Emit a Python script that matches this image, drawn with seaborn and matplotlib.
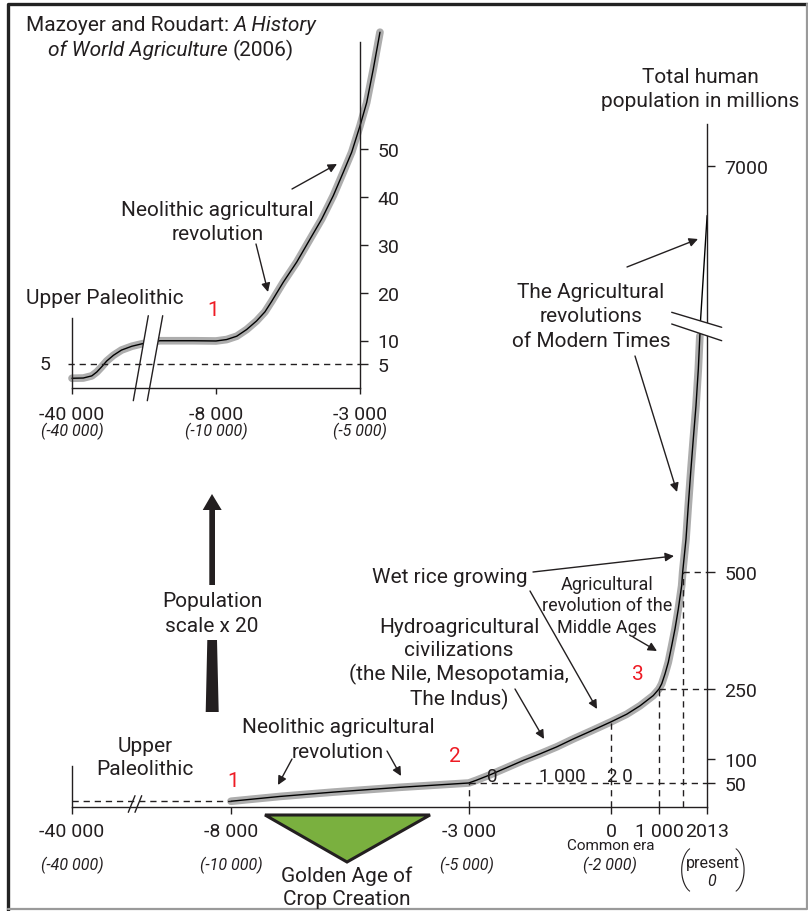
import numpy as np
import pandas as pd
import matplotlib
matplotlib.use("Agg")
import matplotlib.pyplot as plt
import seaborn as sns
from matplotlib.patches import Polygon

# ---------------- data ----------------
# Inset (population scale x 20): Upper Paleolithic -> Neolithic, millions
inset_years = [-40000, -37500, -35600, -34500, -33400, -32300, -30800, -29000, -26700, -24500,
               -20450, -13050, -8000, -7630, -7280, -6935, -6590, -6300, -6066, -5663, -5198,
               -4736, -4330, -3927, -3580, -3288, -3000, -2767, -2538, -2306]
inset_pop = [2.1, 2.15, 2.6, 3.4, 4.5, 5.7, 6.9, 8.0, 8.8, 9.3,
             9.95, 9.95, 9.9, 10.2, 10.9, 12.3, 14.1, 16.0, 18.2, 22.2, 26.4,
             31.2, 35.4, 40.3, 45.2, 49.4, 54.9, 59.8, 66.8, 74.5]
inset_xticks = [-40000, -8000, -3000]
inset_xlabels = ["-40 000", "-8 000", "-3 000"]
inset_xlabels2 = ["(-40 000)", "(-10 000)", "(-5 000)"]
inset_yticks = [5, 10, 20, 30, 40, 50]
inset_ylevel = 5

# Main chart: total human population in millions
main_years = [-8000, -6970, -5850, -4450, -3000, -2833, -2553, -2202, -1853, -1502, -1150,
              -801, -450, 0, 322, 602, 881, 1000, 1058, 1127, 1197, 1268, 1338, 1407, 1478,
              1500, 1569, 1617, 1668, 1722, 1779, 1828, 1860, 1875, 2013]
main_pop = [12, 22, 31, 41, 50, 56, 67, 82, 97, 111, 126,
            143, 159, 180, 196, 214, 236, 250, 261, 282, 307, 342, 378, 420, 470,
            500, 569, 640, 711, 781, 852, 930, 1000, 1100, 5100]
main_xticks = [-40000, -8000, -3000, 0, 1000, 2013]
main_xlabels = ["-40 000", "-8 000", "-3 000", "0", "1 000", "2013"]
main_xlabels2 = ["(-40 000)", "(-10 000)", "(-5 000)", "(-2 000)"]
main_yticks = [50, 100, 250, 500, 7000]
# reference dashed guides (year, population)
guide_years = [-3000, 0, 1000, 1500]
guide_pops = [50, 180, 250, 500]
paleo_level = 12

# ---------------- style ----------------
sns.set_theme(style="white")
plt.rcParams["font.family"] = ["Roboto", "DejaVu Sans"]
TXT = "#231f20"
GREY = "#adadad"
RED = "#ee1c25"
GREEN = "#7ab03f"
FS = 15

W, H = 808, 912
fig = plt.figure(figsize=(W / 100, H / 100), dpi=100)
fig.patch.set_facecolor("white")


def rect(l, t, r, b):
    return [l / W, 1 - b / H, (r - l) / W, (b - t) / H]


# piecewise scales (layout of the broken axes)
mx_nodes = np.array([-80000.0, -40000.0, -8000.0, 5000.0])
mx_pos = np.array([-128.0, 72.0, 231.0, 231.0 + 13000 * 0.04755])
my_nodes = np.array([-1000.0, 0, 50, 100, 250, 500, 1000, 1100, 7000, 20000])
my_pos = H - np.array([808 + 471, 808, 784, 760, 690, 572.5, 337, 321, 167, 167 - 13000 * 0.0261])

ix_nodes = np.array([-80000.0, -40000.0, -8000.0, 0.0])
ix_pos = np.array([72 - 180.0, 72.0, 216.0, 216 + 8000 * 0.0288])


def mk(nodes, pos):
    return (lambda v: np.interp(v, nodes, pos), lambda t: np.interp(t, pos, nodes))


mfx = mk(mx_nodes, mx_pos)
mfy = mk(my_nodes, my_pos)
ifx = mk(ix_nodes, ix_pos)

main_right = float(mfx[0](2013))
main_top_val = float(mfy[1](H - 125))

# ---------------- main axes ----------------
ax = fig.add_axes(rect(72, 125, main_right, 808))
ax.patch.set_visible(False)
dfm = pd.DataFrame({"year": main_years, "pop": main_pop})
sns.lineplot(data=dfm[dfm["pop"] <= 1000], x="year", y="pop", ax=ax, color=GREY, lw=5.5,
             sort=False, estimator=None, solid_capstyle="round", solid_joinstyle="round")
sns.lineplot(data=dfm, x="year", y="pop", ax=ax, color="black", lw=1.0, sort=False,
             estimator=None, solid_joinstyle="round")
ax.set_xscale("function", functions=mfx)
ax.set_yscale("function", functions=mfy)
ax.set_xlim(-40000, 2013)
ax.set_ylim(0, main_top_val)
for ln in ax.lines:
    ln.set_clip_on(False)

dash = (0, (4.5, 3.5))
for yv, pv in zip(guide_years, guide_pops):
    ax.plot([yv, yv], [0, pv], color=TXT, lw=1, ls=dash)
ax.plot([guide_years[0], 2013], [guide_pops[0]] * 2, color=TXT, lw=1, ls=dash)
ax.plot([guide_years[2], 2013], [guide_pops[2]] * 2, color=TXT, lw=1, ls=dash)
ax.plot([guide_years[3], 2013], [guide_pops[3]] * 2, color=TXT, lw=1, ls=dash)
ax.plot([-40000, -8000], [paleo_level] * 2, color=TXT, lw=1, ls=dash)

ax.set_xticks(main_xticks)
ax.set_xticklabels(main_xlabels)
ax.yaxis.tick_right()
ax.set_yticks(main_yticks)
ax.set_yticklabels([str(v) for v in main_yticks])
ax.set_xlabel("")
ax.set_ylabel("")
ax.tick_params(axis="x", direction="out", length=5, width=1, pad=5.5, labelsize=14,
               colors=TXT, bottom=True)
ax.tick_params(axis="y", direction="out", length=6, width=1, pad=6.5, labelsize=14,
               colors=TXT, right=True, left=False)
ax.minorticks_off()
ax.spines["top"].set_visible(False)
for s in ["bottom", "right", "left"]:
    ax.spines[s].set_color(TXT)
    ax.spines[s].set_linewidth(1)
ax.spines["left"].set_bounds(0, 85)

# ---------------- inset axes ----------------
iax = fig.add_axes(rect(72, 43, 360, 389.3))
iax.patch.set_visible(False)
dfi = pd.DataFrame({"year": inset_years, "pop": inset_pop})
sns.lineplot(data=dfi, x="year", y="pop", ax=iax, color=GREY, lw=5.5, sort=False,
             estimator=None, solid_capstyle="round", solid_joinstyle="round")
sns.lineplot(data=dfi, x="year", y="pop", ax=iax, color="black", lw=1.0, sort=False,
             estimator=None, solid_joinstyle="round")
iax.set_xscale("function", functions=ifx)
iax.set_xlim(-40000, -3000)
iax.set_ylim(0, (389.3 - 43) / 4.78)
for ln in iax.lines:
    ln.set_clip_on(False)
iax.plot([-41000, -3000], [inset_ylevel] * 2, color=TXT, lw=1, ls=dash, clip_on=False)
iax.set_xticks(inset_xticks)
iax.set_xticklabels(inset_xlabels)
iax.yaxis.tick_right()
iax.set_yticks(inset_yticks)
iax.set_yticklabels([str(v) for v in inset_yticks])
iax.set_xlabel("")
iax.set_ylabel("")
iax.tick_params(axis="x", direction="out", length=4, width=1, pad=8, labelsize=14,
                colors=TXT, bottom=True)
iax.tick_params(axis="y", direction="out", length=6, width=1, pad=6.5, labelsize=14,
                colors=TXT, right=True, left=False)
iax.minorticks_off()
iax.spines["top"].set_visible(False)
for s in ["bottom", "right", "left"]:
    iax.spines[s].set_color(TXT)
    iax.spines[s].set_linewidth(1)
iax.spines["left"].set_bounds(0, 14.8)
iax.text(-0.075, inset_ylevel, "5", transform=iax.get_yaxis_transform(), ha="right",
         va="center", fontsize=14, color=TXT)

# ---------------- overlay (annotations) ----------------
ao = fig.add_axes([0, 0, 1, 1])
ao.set_xlim(0, W)
ao.set_ylim(H, 0)
ao.axis("off")
ao.set_zorder(10)
ao.patch.set_visible(False)

# frame
ao.plot([8, 8, 807], [911, 5, 5], color="#222222", lw=2.4, solid_capstyle="projecting")
ao.plot([807, 807, 8], [5, 910, 910], color="#9a9a9a", lw=1.6)

# axis breaks
ao.add_patch(Polygon([(148.3, 316.7), (162.7, 316.7), (156.5, 352), (142.1, 352)],
                     closed=True, fc="white", ec="none", zorder=2))
ao.plot([148.3, 133.3], [316.7, 401.7], color=TXT, lw=1, zorder=3)
ao.plot([162.7, 147.3], [316.7, 401.7], color=TXT, lw=1, zorder=3)

ao.add_patch(Polygon([(671.7, 313.3), (721.7, 328.3), (721.7, 341.7), (671.7, 325)],
                     closed=True, fc="white", ec="none", zorder=2))
ao.plot([671.7, 721.7], [313.3, 328.3], color=TXT, lw=1, zorder=3)
ao.plot([671.7, 721.7], [325, 341.7], color=TXT, lw=1, zorder=3)

ao.plot([128.3, 135], [813.3, 796.7], color=TXT, lw=1)
ao.plot([135, 141.7], [813.3, 796.7], color=TXT, lw=1)


def lines(x, baselines, texts, size=FS, **kw):
    for b, s in zip(baselines, texts):
        ao.text(x, b, s, ha="center", va="baseline", fontsize=size, color=TXT, **kw)


def mixed(xc, yb, parts, size=FS, gap=5):
    r = fig.canvas.get_renderer()
    ts = [ao.text(0, yb, s, fontstyle=st, fontsize=size, ha="left", va="baseline", color=TXT)
          for s, st in parts]
    ws = [t.get_window_extent(renderer=r).width for t in ts]
    x = xc - (sum(ws) + gap * (len(ws) - 1)) / 2
    for t, w in zip(ts, ws):
        t.set_x(x)
        x += w + gap


mixed(171, 31, [("Mazoyer and Roudart:", "normal"), ("A History", "italic")])
mixed(171, 56, [("of World Agriculture", "italic"), ("(2006)", "normal")])

# inset texts
lines(217.5, [216, 240], ["Neolithic agricultural", "revolution"])
lines(104.5, [304], ["Upper Paleolithic"])
ao.text(213, 316, "1", color=RED, fontsize=FS, ha="center", va="baseline")
for xv, s in zip([72, 216, 360], inset_xlabels2):
    ao.text(xv, 436, s, ha="center", va="baseline", fontsize=11.5, fontstyle="italic", color=TXT)

# main texts
lines(700, [83, 107], ["Total human", "population in millions"])
lines(591, [298, 322, 347], ["The Agricultural", "revolutions", "of Modern Times"])
lines(450, [583], ["Wet rice growing"])
lines(607, [590, 611, 633], ["Agricultural", "revolution of the", "Middle Ages"], size=13)
lines(459, [633, 656, 680, 705], ["Hydroagricultural", "civilizations",
                                   "(the Nile, Mesopotamia,", "The Indus)"])
lines(338, [733, 758], ["Neolithic agricultural", "revolution"])
lines(145, [752, 775], ["Upper", "Paleolithic"])
lines(212, [607, 632], ["Population", "scale x 20"])
lines(347, [882, 905], ["Golden Age of", "Crop Creation"])
lines(611, [850], ["Common era"], size=11)
for xv, s in zip([72, 231, 467, 610], main_xlabels2):
    ao.text(xv, 870, s, ha="center", va="baseline", fontsize=11.5, fontstyle="italic", color=TXT)
ao.text(713, 868, "present", ha="center", va="baseline", fontsize=11.5, color=TXT)
ao.text(712, 886, "0", ha="center", va="baseline", fontsize=11.5, fontstyle="italic", color=TXT)
ao.text(684, 870, "(", ha="center", va="center", fontsize=31, fontweight="light", color=TXT)
ao.text(741, 870, ")", ha="center", va="center", fontsize=31, fontweight="light", color=TXT)
for xv, s in zip([492, 562, 620], ["0", "1 000", "2 0"]):
    ao.text(xv, 782, s, ha="center", va="baseline", fontsize=13.5, color=TXT)
for xv, yv, s in [(233, 787, "1"), (455, 762, "2"), (638, 680, "3")]:
    ao.text(xv, yv, s, ha="center", va="baseline", fontsize=FS, color=RED)

# arrows
arrows = [((292, 190), (337, 165)), ((256, 245), (268, 293)),
          ((627, 268), (698, 240)), ((635, 357), (677, 493)),
          ((533, 573), (674, 557)), ((530, 592), (597, 710)),
          ((633, 638), (657, 652)), ((515, 690), (544, 740)),
          ((292, 760), (278, 786)), ((387, 752), (401, 777))]
for s, e in arrows:
    ao.annotate("", xy=e, xytext=s,
                arrowprops=dict(arrowstyle="-|>", color=TXT, lw=1, mutation_scale=13,
                                shrinkA=0, shrinkB=0))

# population scale arrow
ao.add_patch(Polygon([(209.3, 586), (209.3, 511), (202.7, 511), (212, 495), (221.7, 511),
                      (215, 511), (215, 586)], closed=True, fc=TXT, ec="none"))
ao.add_patch(Polygon([(207.3, 641), (217, 641), (218.7, 713), (205.7, 713)],
                     closed=True, fc=TXT, ec="none"))

# golden age triangle
ao.add_patch(Polygon([(265, 816), (430, 816), (347, 863)], closed=True, fc=GREEN,
                     ec=TXT, lw=2.2, joinstyle="miter"))

fig.savefig("out.png", dpi=100, facecolor="white")
